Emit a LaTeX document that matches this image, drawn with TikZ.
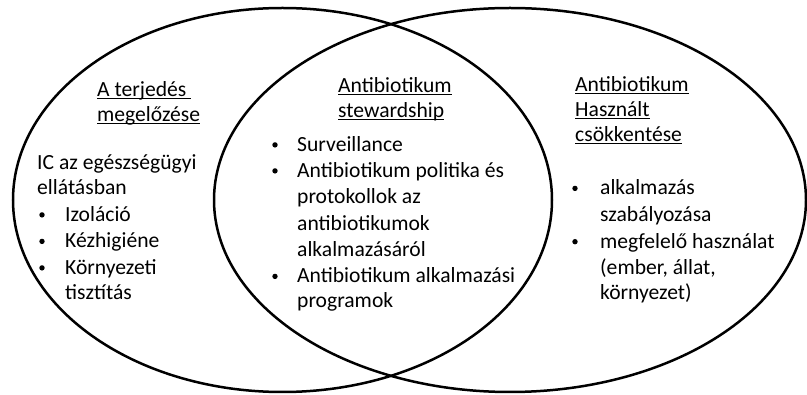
\documentclass[tikz,border=0pt]{standalone}
\usepackage{fontspec}
\setmainfont{Carlito}
\newcommand{\fsz}{\fontsize{21.6}{26}\selectfont}
\newcommand{\myul}[1]{\setbox0\hbox{#1}\rlap{\rule[-2.6pt]{\wd0}{1.5pt}}\box0}
\tikzset{
  txt/.style={anchor=base west, inner sep=0pt, font=\fsz},
  bul/.style={circle, fill=black, inner sep=0pt, minimum size=5.4pt, yshift=6.6pt},
  venn/.style={draw=black, line width=2.5pt}
}
\begin{document}
\begin{tikzpicture}[x=1pt,y=-1pt]
\useasboundingbox[fill=white] (0,0) rectangle (807,395);
\draw[venn] (282.5,200) ellipse [x radius=269.5, y radius=192];
\draw[venn] (510,200) ellipse [x radius=296, y radius=192];
% left heading
\node[txt] (lh1) at (97,96.7) {\myul{A terjedés\ }};
\node[txt] (lh2) at (97,121.7) {\myul{megelőzése}};
% middle heading
\node[txt] (mh1) at (338,92.7) {\myul{Antibiotikum}};
\node[txt] (mh2) at (338,117.7) {\myul{stewardship}};
% right heading
\node[txt] (rh1) at (575,91.7) {\myul{Antibiotikum}};
\node[txt] (rh2) at (575,116.7) {\myul{Használt}};
\node[txt] (rh3) at (575,141.7) {\myul{csökkentése}};
% left body
\node[txt] (lb1) at (37,170) {IC az egészségügyi};
\node[txt] (lb2) at (37,195) {ellátásban};
\node[bul] (lbu1) at (42,221.5) {};
\node[txt] (lb3) at (65,221.5) {Izoláció};
\node[bul] (lbu2) at (42,248) {};
\node[txt] (lb4) at (65,248) {Kézhigiéne};
\node[bul] (lbu3) at (42,274.5) {};
\node[txt] (lb5) at (65,274.5) {Környezeti};
\node[txt] (lb6) at (65,299.5) {tisztítás};
% middle body
\node[bul] (mbu1) at (275,151.5) {};
\node[txt] (mb1) at (297,151.5) {Surveillance};
\node[bul] (mbu2) at (275,177.5) {};
\node[txt] (mb2) at (297,177.5) {Antibiotikum politika és};
\node[txt] (mb3) at (297,204) {protokollok az};
\node[txt] (mb4) at (297,230.5) {antibiotikumok};
\node[txt] (mb5) at (297,256.5) {alkalmazásáról};
\node[bul] (mbu3) at (275,283) {};
\node[txt] (mb6) at (297,283) {Antibiotikum alkalmazási};
\node[txt] (mb7) at (297,308) {programok};
% right body
\node[bul] (rbu1) at (575,195) {};
\node[txt] (rb1) at (600,195) {alkalmazás};
\node[txt] (rb2) at (600,221.7) {szabályozása};
\node[bul] (rbu2) at (575,248.3) {};
\node[txt] (rb3) at (600,248.3) {megfelelő használat};
\node[txt] (rb4) at (600,275) {(ember, állat,};
\node[txt] (rb5) at (600,300) {környezet)};
\end{tikzpicture}
\end{document}
